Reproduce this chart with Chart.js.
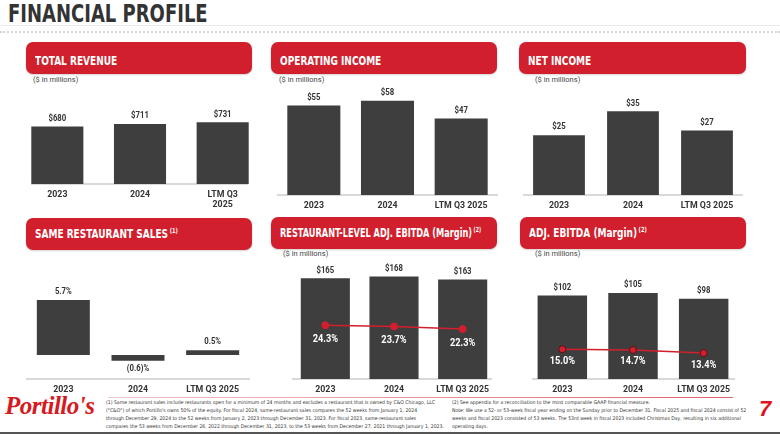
<!DOCTYPE html>
<html><head><meta charset="utf-8">
<script src="https://cdn.jsdelivr.net/npm/chart.js@4.4.1/dist/chart.umd.min.js"></script>
<style>
html,body{margin:0;padding:0;background:#fff;}
body{width:780px;height:434px;position:relative;overflow:hidden;font-family:'DejaVu Sans Condensed','Liberation Sans',sans-serif;color:#333;}
#title{position:absolute;left:8px;top:-1px;font-size:25px;font-weight:bold;color:#333;white-space:nowrap;transform:scaleX(0.8);transform-origin:left top;}
.rule1{position:absolute;left:0;top:25px;width:780px;height:1px;background:#ececec;}
.rule2{position:absolute;left:0;top:31px;width:780px;height:0;border-top:2px dotted #d4d4d4;}
.hdr{position:absolute;height:32px;background:#d11f2d;border-radius:7px;color:#fff;font-weight:bold;font-size:12.5px;line-height:32px;padding-left:9px;box-sizing:border-box;box-shadow:0 1px 2px rgba(0,0,0,0.18);white-space:nowrap;}
.hdr.r1{padding-top:3px;}
.hdr .t{display:inline-block;transform:scaleX(0.8);transform-origin:left center;}
.hdr .t.n{transform:scaleX(0.73);}
.hdr .sp{font-size:7px;position:relative;top:-5px;margin-left:2px;}
.unit{position:absolute;font-size:7.5px;color:#444;line-height:8px;font-family:'Roboto','Liberation Sans',sans-serif;}
canvas{position:absolute;}
.fn{position:absolute;font-size:5.1px;line-height:8px;color:#333;white-space:nowrap;}
#redline{position:absolute;left:108px;top:397px;width:625px;height:1px;background:linear-gradient(to right,#f1c6ca,#e3616c);}
#bottom{position:absolute;left:0;top:432px;width:780px;height:2px;background:#555;}
#logo{position:absolute;left:5px;top:392px;font-family:'Liberation Serif','DejaVu Serif',serif;font-style:italic;font-weight:bold;font-size:25px;color:#d71920;letter-spacing:-0.5px;}
#page{position:absolute;left:759px;top:396px;font-family:'Liberation Sans','DejaVu Sans',sans-serif;font-style:italic;font-weight:bold;font-size:22px;color:#e0141e;}
</style>
</head>
<body>
<div id="title">FINANCIAL PROFILE</div>
<div class="rule1"></div>
<div class="rule2"></div>

<div class="hdr r1" style="left:26px;top:42px;width:226px;"><span class="t">TOTAL REVENUE</span></div>
<div class="hdr r1" style="left:271px;top:42px;width:226px;"><span class="t">OPERATING INCOME</span></div>
<div class="hdr r1" style="left:519px;top:42px;width:227px;"><span class="t">NET INCOME</span></div>
<div class="hdr" style="left:26px;top:218px;width:226px;"><span class="t">SAME RESTAURANT SALES<span class="sp">(1)</span></span></div>
<div class="hdr" style="left:271px;top:217px;width:226px;"><span class="t n">RESTAURANT-LEVEL ADJ. EBITDA (Margin)<span class="sp">(2)</span></span></div>
<div class="hdr" style="left:520px;top:217px;width:226px;"><span class="t">ADJ. EBITDA (Margin)<span class="sp">(2)</span></span></div>

<div class="unit" style="left:33px;top:76px;">($ in millions)</div>
<div class="unit" style="left:279px;top:76px;">($ in millions)</div>
<div class="unit" style="left:535px;top:76px;">($ in millions)</div>
<div class="unit" style="left:283px;top:250px;">($ in millions)</div>
<div class="unit" style="left:535px;top:250px;">($ in millions)</div>

<div id="redline"></div>
<div id="logo">Portillo's</div>
<div id="page">7</div>
<div class="fn" style="left:106px;top:398px;">
(1) Same restaurant sales include restaurants open for a minimum of 24 months and excludes a restaurant that is owned by C&amp;O Chicago, LLC<br>
("C&amp;O") of which Portillo's owns 50% of the equity. For fiscal 2024, same-restaurant sales compares the 52 weeks from January 1, 2024<br>
through December 29, 2024 to the 52 weeks from January 2, 2023 through December 31, 2023. For fiscal 2023, same-restaurant sales<br>
compares the 53 weeks from December 26, 2022 through December 31, 2023, to the 53 weeks from December 27, 2021 through January 1, 2023.
</div>
<div class="fn" style="left:452px;top:398px;">
(2) See appendix for a reconciliation to the most comparable GAAP financial measure.<br>
Note: We use a 52- or 53-week fiscal year ending on the Sunday prior to December 31. Fiscal 2025 and fiscal 2024 consist of 52<br>
weeks and fiscal 2023 consisted of 53 weeks. The 53rd week in fiscal 2023 included Christmas Day, resulting in six additional<br>
operating days.
</div>
<div id="bottom"></div>

<script>
// ---- Data ----
const categories = ['2023', '2024', 'LTM Q3 2025'];
const revenueCategories = ['2023', '2024', ['LTM Q3', '2025']];
const totalRevenue = [680, 711, 731];
const operatingIncome = [55, 58, 47];
const netIncome = [25, 35, 27];
const sameRestaurantSales = [5.7, -0.6, 0.5];
const restaurantLevelEbitda = [165, 168, 163];
const restaurantLevelMargin = [24.3, 23.7, 22.3];
const adjEbitda = [102, 105, 98];
const adjEbitdaMargin = [15.0, 14.7, 13.4];

const FONT = "Roboto,'DejaVu Sans Condensed',sans-serif";
const BAR = '#3e3e3e';
const RED = '#d11f2d';

const fmtDollar = v => '$' + v;
const fmtPct = v => (v < 0 ? '(' + Math.abs(v).toFixed(1) + ')%' : v.toFixed(1) + '%');

function baselinePlugin(insetL, insetR) {
  return {
    id: 'baseline',
    beforeDatasetsDraw(chart) {
      const a = chart.chartArea, ctx = chart.ctx;
      ctx.save();
      ctx.strokeStyle = '#cccccc';
      ctx.lineWidth = 1.5;
      ctx.beginPath();
      ctx.moveTo(a.left + insetL, a.bottom);
      ctx.lineTo(a.right - insetR, a.bottom);
      ctx.stroke();
      ctx.restore();
    }
  };
}

function labelPlugin(barFmt, lineFmt, lineOff) {
  return {
    id: 'valueLabels',
    afterDatasetsDraw(chart) {
      const ctx = chart.ctx;
      chart.data.datasets.forEach((ds, di) => {
        const meta = chart.getDatasetMeta(di);
        meta.data.forEach((el, i) => {
          const v = ds.data[i];
          ctx.save();
          ctx.textAlign = 'center';
          ctx.textBaseline = 'middle';
          if (ds.type === 'bar') {
            ctx.fillStyle = '#333';
            ctx.font = 'bold 9px ' + FONT;
            ctx.translate(el.x, v >= 0 ? el.y - 8 : el.y + 8);
            ctx.scale(0.86, 1);
            ctx.fillText(barFmt(v), 0, 0);
          } else {
            ctx.fillStyle = '#fff';
            ctx.font = 'bold 10px ' + FONT;
            ctx.translate(el.x, el.y + lineOff);
            ctx.scale(0.92, 1);
            ctx.fillText(lineFmt(v), 0, 0);
          }
          ctx.restore();
        });
      });
    }
  };
}

function addChart(o) {
  const c = document.createElement('canvas');
  const w = o.right - o.left, h = o.bottom - o.top + o.axisH;
  c.width = w; c.height = h;
  c.style.left = o.left + 'px'; c.style.top = o.top + 'px';
  c.style.width = w + 'px'; c.style.height = h + 'px';
  document.body.appendChild(c);
  const datasets = [{
    type: 'bar', data: o.bars, backgroundColor: BAR,
    barPercentage: o.barPct, categoryPercentage: 1, order: 1, yAxisID: 'y'
  }];
  if (o.line) {
    datasets.push({
      type: 'line', data: o.line, borderColor: RED, borderWidth: 1.5,
      pointRadius: 3.5, pointBackgroundColor: RED,
      pointBorderColor: o.pointBorder || RED, pointBorderWidth: 1,
      order: 0, yAxisID: 'y1'
    });
  }
  const scales = {
    x: {
      grid: { display: false, drawTicks: false },
      border: { display: false },
      ticks: {
        color: '#333', font: { family: FONT, size: 8.8, weight: 'bold', lineHeight: 1.15 },
        padding: 6, maxRotation: 0, minRotation: 0, autoSkip: false
      },
      afterFit: s => { s.height = o.axisH; }
    },
    y: { display: false, min: o.yMin, max: o.yMax }
  };
  if (o.line) scales.y1 = { display: false, min: o.y1Min, max: o.y1Max };
  new Chart(c, {
    type: 'bar',
    data: { labels: o.labels, datasets },
    options: {
      responsive: false, animation: false,
      layout: { padding: 0 },
      plugins: { legend: { display: false }, tooltip: { enabled: false } },
      scales
    },
    plugins: [baselinePlugin(o.insetL || 0, o.insetR || 0), labelPlugin(o.fmt, o.lineFmt, o.lineOff || 0)]
  });
}

addChart({ left: 16, right: 264, top: 84, bottom: 184, axisH: 28, labels: revenueCategories,
  bars: totalRevenue, yMin: 0, yMax: 1185, barPct: 0.63, insetL: 15, insetR: 16, fmt: fmtDollar });
addChart({ left: 277, right: 498, top: 84, bottom: 195, axisH: 16, labels: categories,
  bars: operatingIncome, yMin: 0, yMax: 68.3, barPct: 0.72, fmt: fmtDollar });
addChart({ left: 522, right: 744, top: 84, bottom: 195, axisH: 16, labels: categories,
  bars: netIncome, yMin: 0, yMax: 46.4, barPct: 0.70, insetL: 1, insetR: 1, fmt: fmtDollar });
addChart({ left: 26, right: 250, top: 262, bottom: 379, axisH: 16, labels: categories,
  bars: sameRestaurantSales, yMin: -2.49, yMax: 9.64, barPct: 0.71, fmt: fmtPct });
addChart({ left: 286, right: 502, top: 256, bottom: 379, axisH: 16, labels: categories,
  bars: restaurantLevelEbitda, yMin: 0, yMax: 193.4, barPct: 0.715, insetL: 1, insetR: 5,
  line: restaurantLevelMargin, y1Min: -3.7, y1Max: 57.8, lineFmt: fmtPct, lineOff: 14, fmt: fmtDollar });
addChart({ left: 522, right: 744, top: 256, bottom: 379, axisH: 16, labels: categories,
  bars: adjEbitda, yMin: 0, yMax: 144.2, barPct: 0.70, insetL: 5, insetR: 4,
  line: adjEbitdaMargin, y1Min: 2.6, y1Max: 51.8, lineFmt: fmtPct, lineOff: 12,
  pointBorder: '#5a1212', fmt: fmtDollar });
</script>
</body></html>
